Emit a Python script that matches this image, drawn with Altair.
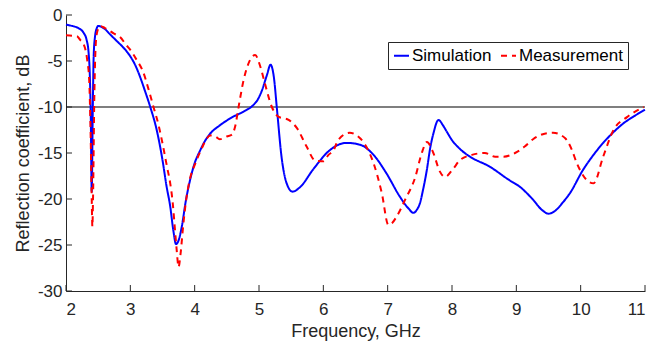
import altair as alt
import pandas as pd

# ---- data ----
sim_freq = [2.00, 2.10, 2.20, 2.27, 2.32, 2.35, 2.37, 2.385, 2.40, 2.415, 2.43, 2.45, 2.48, 2.50,
            2.60, 2.684, 2.80, 2.90, 3.00, 3.08, 3.15, 3.23, 3.31, 3.41, 3.51, 3.56, 3.62, 3.67,
            3.71, 3.75, 3.80, 3.86, 3.93, 4.00, 4.08, 4.16, 4.24, 4.39, 4.60, 4.76, 4.91, 4.98,
            5.04, 5.12, 5.18, 5.23, 5.28, 5.35, 5.43, 5.52, 5.64, 5.84, 6.10, 6.36, 6.57, 6.78,
            6.98, 7.19, 7.32, 7.40, 7.46, 7.50, 7.55, 7.61, 7.66, 7.71, 7.79, 7.86, 7.92, 8.02,
            8.10, 8.17, 8.28, 8.59, 8.88, 9.06, 9.25, 9.40, 9.50, 9.60, 9.72, 9.83, 10.04, 10.20,
            10.35, 10.50, 10.66, 10.83, 11.00]
sim_db = [-1.05, -1.2, -1.45, -1.9, -2.7, -4.0, -6.5, -11.0, -19.2, -11.0, -4.5, -2.4, -1.4, -1.2,
          -1.5, -2.1, -2.9, -3.6, -4.5, -5.5, -6.7, -8.3, -10.0, -12.5, -16.2, -18.5, -20.8, -23.5,
          -24.9, -24.5, -23.0, -20.3, -17.9, -16.1, -14.8, -13.7, -12.9, -12.0, -11.05, -10.5, -9.8, -9.2,
          -8.3, -6.6, -5.4, -6.7, -10.3, -15.4, -18.3, -19.2, -18.7, -16.8, -14.7, -13.9, -14.1, -15.2,
          -17.2, -19.75, -21.0, -21.5, -21.1, -20.5, -19.0, -16.8, -14.5, -12.9, -11.4, -12.0, -12.7, -13.8,
          -14.4, -14.85, -15.4, -16.5, -17.9, -18.7, -20.0, -21.2, -21.6, -21.3, -20.4, -19.4, -16.8, -15.2,
          -13.9, -12.8, -11.8, -11.0, -10.3]

meas_freq = [2.00, 2.10, 2.17, 2.22, 2.27, 2.33, 2.36, 2.38, 2.40, 2.41, 2.42, 2.44, 2.46, 2.48,
             2.53, 2.60, 2.74, 2.84, 2.94, 3.00, 3.10, 3.20, 3.28, 3.36, 3.44, 3.51, 3.57, 3.62,
             3.66, 3.69, 3.72, 3.75, 3.78, 3.82, 3.86, 3.90, 4.03, 4.11, 4.19, 4.24, 4.32, 4.39,
             4.50, 4.58, 4.63, 4.68, 4.76, 4.86, 4.94, 5.02, 5.09, 5.20, 5.30, 5.46, 5.59, 5.74,
             5.87, 6.00, 6.08, 6.16, 6.23, 6.41, 6.52, 6.62, 6.78, 6.91, 7.01, 7.07, 7.14, 7.27,
             7.43, 7.53, 7.61, 7.71, 7.81, 7.89, 8.02, 8.12, 8.31, 8.51, 8.67, 8.80, 8.98, 9.13,
             9.26, 9.44, 9.57, 9.76, 9.86, 9.94, 10.09, 10.20, 10.35, 10.51, 10.72, 10.98]
meas_db = [-2.2, -2.25, -2.3, -2.7, -3.1, -4.9, -7.0, -12.0, -20.0, -23.0, -20.0, -9.0, -3.5, -2.0,
           -1.2, -1.4, -2.0, -2.4, -3.3, -3.8, -4.9, -6.2, -8.0, -10.0, -12.0, -14.3, -16.5, -18.3,
           -20.5, -23.0, -25.5, -27.4, -26.0, -23.0, -20.5, -18.7, -15.8, -14.5, -13.4, -13.1, -13.2, -13.5,
           -13.2, -13.0, -12.1, -10.1, -7.1, -4.9, -4.35, -5.6, -7.4, -10.0, -11.05, -11.4, -12.3, -14.3,
           -15.8, -15.9, -15.2, -14.7, -13.6, -12.8, -13.1, -13.8, -16.1, -19.4, -22.8, -22.6, -21.9, -20.1,
           -17.6, -15.0, -13.8, -15.0, -17.0, -17.6, -16.7, -15.8, -15.2, -15.0, -15.4, -15.4, -15.0, -14.3,
           -13.5, -12.9, -12.8, -13.4, -14.6, -16.1, -17.9, -18.3, -15.4, -12.5, -11.1, -10.0]

series_names = ["Simulation", "Measurement"]
series_colors = ["#0000ff", "#ff0000"]
threshold = [-10]
x_ticks = [2, 3, 4, 5, 6, 7, 8, 9, 10, 11]
y_ticks = [-30, -25, -20, -15, -10, -5, 0]

# ---- build tables ----
sim_df = pd.DataFrame({"f": sim_freq, "db": sim_db, "series": series_names[0]})
meas_df = pd.DataFrame({"f": meas_freq, "db": meas_db, "series": series_names[1]})
thr_df = pd.DataFrame({"db": threshold})
xt_df = pd.DataFrame({"f": x_ticks})
yt_df = pd.DataFrame({"db": y_ticks})

W, H = 579, 276
FONT = "Liberation Sans"
AX = "#262626"

xscale = alt.Scale(domain=[2, 11], nice=False, zero=False)
yscale = alt.Scale(domain=[-30, 0], nice=False, zero=False)

x_axis = alt.Axis(values=x_ticks, labelExpr="'' + datum.value", title="Frequency, GHz",
                  ticks=False, grid=False, labelPadding=10, titlePadding=5)
y_axis = alt.Axis(values=y_ticks, labelExpr="'' + datum.value", title="Reflection coefficient, dB",
                  ticks=False, grid=False, labelPadding=4, titlePadding=5)

color_enc = alt.Color("series:N", scale=alt.Scale(domain=series_names, range=series_colors),
                      legend=alt.Legend(title=None, orient="none", legendX=322, legendY=27,
                                        direction="horizontal"))
dash_enc = alt.StrokeDash("series:N",
                          scale=alt.Scale(domain=series_names, range=[[1, 0], [6, 5]]),
                          legend=alt.Legend(title=None, orient="none", legendX=322, legendY=27,
                                            direction="horizontal"))

thr = alt.Chart(thr_df).mark_rule(color="#000000", strokeWidth=1.2).encode(
    y=alt.Y("db:Q", scale=yscale, axis=y_axis))

sim = alt.Chart(sim_df).mark_line(strokeWidth=2, interpolate="monotone").encode(
    x=alt.X("f:Q", scale=xscale, axis=x_axis),
    y=alt.Y("db:Q", scale=yscale, axis=y_axis),
    color=color_enc, strokeDash=dash_enc)

meas = alt.Chart(meas_df).mark_line(strokeWidth=2, interpolate="monotone").encode(
    x=alt.X("f:Q", scale=xscale, axis=x_axis),
    y=alt.Y("db:Q", scale=yscale, axis=y_axis),
    color=color_enc, strokeDash=dash_enc)

xt = alt.Chart(xt_df).mark_rule(color=AX, strokeWidth=1).encode(
    x=alt.X("f:Q", scale=xscale, axis=x_axis), y=alt.value(H), y2=alt.value(H - 6))
yt = alt.Chart(yt_df).mark_rule(color=AX, strokeWidth=1).encode(
    y=alt.Y("db:Q", scale=yscale, axis=y_axis), x=alt.value(0), x2=alt.value(6))

chart = alt.layer(thr, sim, meas, xt, yt).properties(
    width=W, height=H,
    autosize=alt.AutoSizeParams(type="none"),
    padding={"left": 66, "top": 15, "right": 22, "bottom": 52},
).configure_view(stroke=None).configure_axis(
    labelFont=FONT, titleFont=FONT, labelFontSize=17, titleFontSize=18,
    labelColor=AX, titleColor=AX, titleFontWeight="normal",
    domainColor=AX, domainWidth=1,
).configure_legend(
    symbolType="stroke", symbolSize=225, symbolStrokeWidth=2,
    labelFont=FONT, labelFontSize=17, labelColor="#000000",
    labelOffset=2, columnPadding=5, padding=5,
    strokeColor=AX, fillColor="#ffffff",
)

chart.save("out.html", embed_options={"renderer": "svg", "actions": False})
